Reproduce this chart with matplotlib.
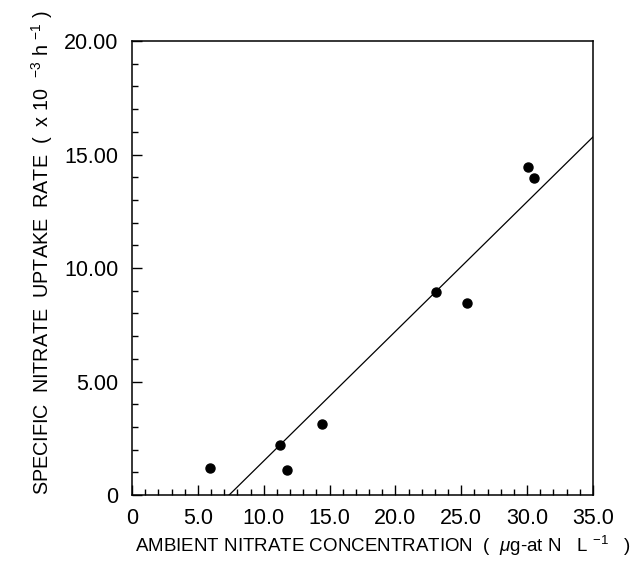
import numpy as np
import matplotlib
matplotlib.use("Agg")
import matplotlib.pyplot as plt
from matplotlib.ticker import MultipleLocator, FixedLocator

# data
nitrate = [5.9, 11.2, 11.8, 14.4, 23.1, 25.4, 30.1, 30.5]
uptake = [1.19, 2.20, 1.10, 3.13, 8.94, 8.46, 14.45, 13.96]
# regression line (slope, intercept)
slope = 0.571
intercept = -4.21

x_ticks = [0, 5, 10, 15, 20, 25, 30, 35]
x_labels = ["0", "5.0", "10.0", "15.0", "20.0", "25.0", "30.0", "35.0"]
y_ticks = [0, 5, 10, 15, 20]
y_labels = ["0", "5.00", "10.00", "15.00", "20.00"]

plt.rcParams['font.family'] = ['Liberation Sans', 'DejaVu Sans']
plt.rcParams['mathtext.fontset'] = 'custom'
plt.rcParams['mathtext.rm'] = 'Liberation Sans'
plt.rcParams['mathtext.it'] = 'Liberation Sans:italic'

fig = plt.figure(figsize=(6.39, 5.81), dpi=100)
ax = fig.add_axes([0.2066, 0.148, 0.7214, 0.7814])

ax.plot(nitrate, uptake, 'o', color='black', markersize=6.5)
x0 = -intercept / slope
xs = np.array([x0, 35])
ax.plot(xs, slope * xs + intercept, color='black', linewidth=0.9)

ax.set_xlim(0, 35)
ax.set_ylim(0, 20)
ax.xaxis.set_major_locator(FixedLocator(x_ticks))
ax.set_xticklabels(x_labels)
ax.yaxis.set_major_locator(FixedLocator(y_ticks))
ax.set_yticklabels(y_labels)
ax.xaxis.set_minor_locator(MultipleLocator(1))
ax.yaxis.set_minor_locator(MultipleLocator(1))
ax.tick_params(which='both', direction='in', top=False, right=False, labelsize=15.5, width=1)
ax.tick_params(axis='x', which='both', pad=9)
ax.tick_params(axis='y', which='both', pad=10)
ax.tick_params(which='major', length=7.5)
ax.tick_params(which='minor', length=4.3)
for s in ax.spines.values():
    s.set_linewidth(1.1)

ax.set_xlabel(r"AMBIENT NITRATE CONCENTRATION  (  $\mathit{\mu}$g-at N   L $^{-1}$   )", fontsize=13.5)
ax.set_ylabel(r"SPECIFIC  NITRATE  UPTAKE  RATE  (  x 10  $^{-3}$ h $^{-1}$ )", fontsize=14.2)
ax.xaxis.set_label_coords(0.545, -0.085)
ax.yaxis.set_label_coords(-0.167, 0.535)

fig.savefig("out.png", dpi=100)
